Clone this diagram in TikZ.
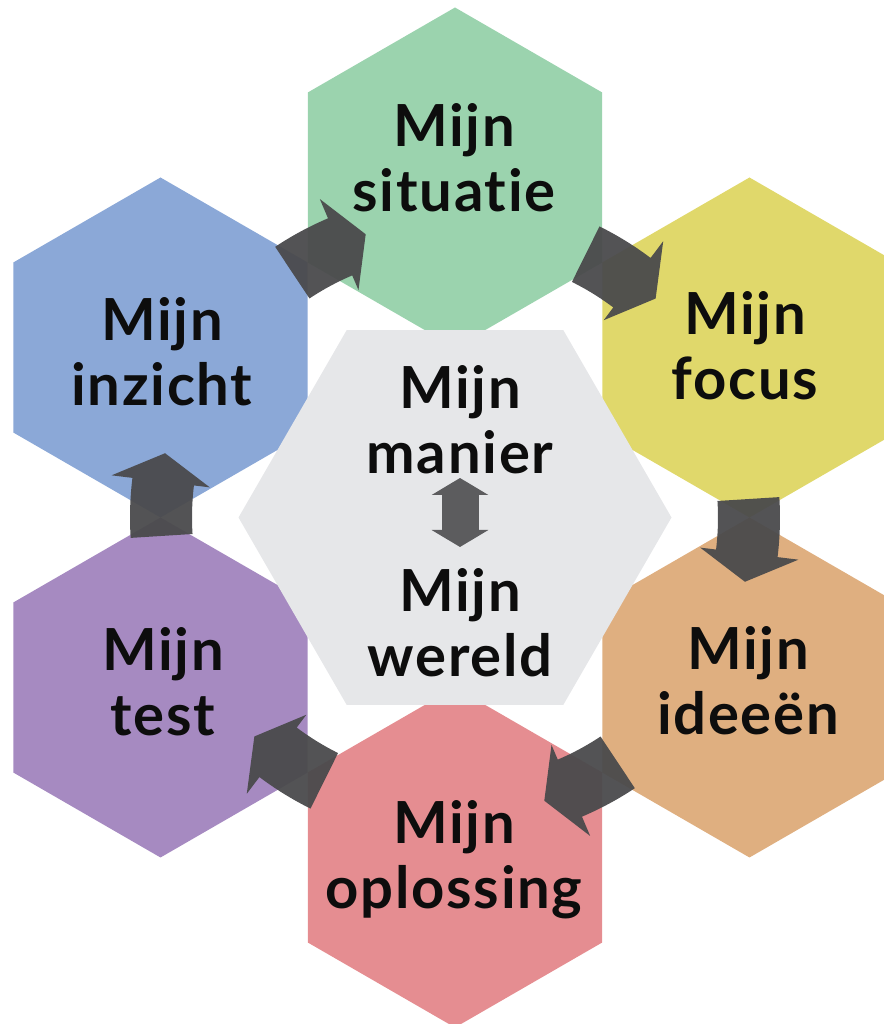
\documentclass[tikz,border=0pt]{standalone}
\usepackage{fontspec}
\setmainfont{Lato}[Ligatures=NoCommon,LetterSpace=3]
\usetikzlibrary{arrows.meta,shapes.geometric}
\definecolor{Sit}{HTML}{9BD3AE}
\definecolor{Foc}{HTML}{E0D86B}
\definecolor{Ide}{HTML}{DFAF80}
\definecolor{Opl}{HTML}{E58D91}
\definecolor{Tst}{HTML}{A68AC1}
\definecolor{Inz}{HTML}{8BA8D7}
\definecolor{Mid}{HTML}{E6E7E9}
\definecolor{Dark}{HTML}{4A4A4C}

% curved block arrow in the gap around angle #1 (clockwise)
\newcommand{\cyclearrow}[1]{%
  \fill[Dark,fill opacity=0.95,shift={(C)}]
    (#1+3.6:3.25) arc[start angle=#1+3.6,end angle=#1-7,radius=3.25]
    -- (#1-7:3.46) -- (#1-12.5:2.97) -- (#1-7:2.47) -- (#1-7:2.63)
    arc[start angle=#1-7,end angle=#1+3.6,radius=2.63] -- cycle;}

\begin{document}
\begin{tikzpicture}[
    hex/.style={regular polygon,regular polygon sides=6,
      regular polygon rotate=30,minimum size=3.4cm,inner sep=0pt},
    core/.style={regular polygon,regular polygon sides=6,
      minimum size=4.33cm,inner sep=0pt,fill=Mid},
    lbl/.style={align=center,font=\fontsize{16.5}{18.6}\selectfont\bfseries,
      text=black!95}
  ]
    \useasboundingbox (0,0) rectangle (8.84,10.24);
    \coordinate (C) at (4.55,5.065);

    \node[hex,fill=Sit] (sit) at (4.55,8.465) {};
    \node[hex,fill=Foc] (foc) at (7.495,6.765) {};
    \node[hex,fill=Ide] (ide) at (7.495,3.365) {};
    \node[hex,fill=Opl] (opl) at (4.55,1.665) {};
    \node[hex,fill=Tst] (tst) at (1.605,3.365) {};
    \node[hex,fill=Inz] (inz) at (1.605,6.765) {};

    \foreach \a in {120,60,0,-60,-120,180}
      {\cyclearrow{\a}}

    \node[core] (mid) at (C) {};

    \node[lbl] (lsit) at (4.54,8.66) {Mijn\\situatie};
    \node[lbl] (lfoc) at (7.45,6.78) {Mijn\\focus};
    \node[lbl] (lide) at (7.48,3.43) {Mijn\\ideeën};
    \node[lbl] (lopl) at (4.54,1.64) {Mijn\\oplossing};
    \node[lbl] (ltst) at (1.63,3.42) {Mijn\\test};
    \node[lbl] (linz) at (1.62,6.72) {Mijn\\inzicht};
    \node[lbl] (lman) at (4.60,6.04) {Mijn\\manier};
    \node[lbl] (lwer) at (4.60,4.01) {Mijn\\wereld};

    \coordinate (dtop) at (4.60,5.46);
    \coordinate (dbot) at (4.60,4.77);
    \draw[{Triangle[length=0.17cm,width=0.56cm]}-{Triangle[length=0.17cm,width=0.56cm]},
      line width=0.37cm,draw=Dark!90] (dtop)--(dbot);
  \end{tikzpicture}
\end{document}
